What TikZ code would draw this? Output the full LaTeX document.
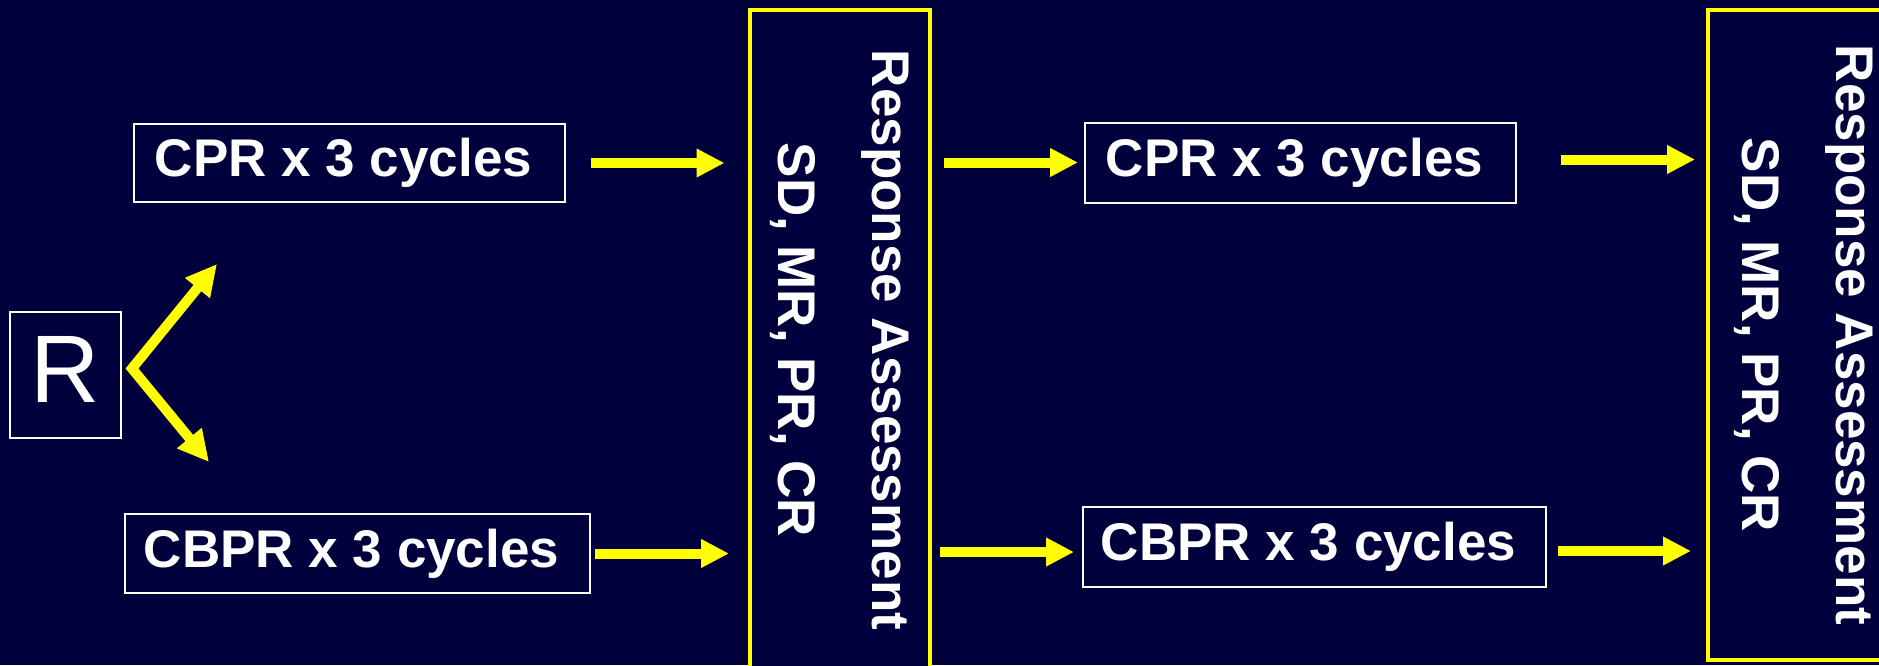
\documentclass[tikz,border=0pt]{standalone}
\usepackage{fontspec}
\setmainfont{Liberation Sans}
\usetikzlibrary{arrows.meta,calc}
\definecolor{navy}{RGB}{0,0,60}
\definecolor{ylw}{RGB}{255,255,0}
% labels in the treatment boxes sit slightly left of centre
\newcommand{\boxlabelpad}{\kern12pt}
\begin{document}
\begin{tikzpicture}[x=1pt,y=-1pt,
  wbox/.style={draw=white, line width=2pt, fill=navy, text=white, inner sep=0pt,
    font=\fontsize{53}{60}\selectfont\bfseries},
  ybox/.style={draw=ylw, line width=4pt, fill=navy, inner sep=0pt},
  vtext/.style={text=white, rotate=-90, align=center, inner sep=0pt,
    font=\fontsize{53}{94}\selectfont\bfseries},
  flow/.style={draw=ylw, line width=10pt, -{Triangle[length=28pt,width=27pt]}},
  forkarrow/.style={draw=ylw, line width=10pt, line join=miter,
    {Triangle[length=31pt,width=30pt]}-{Triangle[length=31pt,width=30pt]}}
]
% background
\fill[navy] (0,0) rectangle (1879,665);
\clip (0,0) rectangle (1879,665);

% randomisation
\node[wbox, minimum width=111pt, minimum height=126pt, text depth=10pt,
  font=\fontsize{96}{100}\selectfont] (R) at (65.5,374.5) {R};

% treatment boxes
\node[wbox, minimum width=431pt, minimum height=78pt] (cprL) at (349.5,163) {CPR x 3 cycles\boxlabelpad};
\node[wbox, minimum width=465pt, minimum height=79pt] (cbprL) at (357.5,553.5) {CBPR x 3 cycles\boxlabelpad};
\node[wbox, minimum width=431pt, minimum height=80pt] (cprR) at (1300.5,162.5) {CPR x 3 cycles\boxlabelpad};
\node[wbox, minimum width=463pt, minimum height=80pt] (cbprR) at (1314.5,547) {CBPR x 3 cycles\boxlabelpad};

% response assessment columns
\node[ybox, minimum width=180pt, minimum height=660pt] (ra1) at (839.5,340) {};
\node[vtext] (ra1t) at (ra1.center) {Response Assessment\\SD, MR, PR, CR};
\node[ybox, minimum width=191pt, minimum height=650pt] (ra2) at (1803.5,335) {};
\node[vtext] (ra2t) at (ra2.center) {Response Assessment\\SD, MR, PR, CR};

% fork from R
\coordinate (fork) at ($(R.east)+(10,-6)$);
\coordinate (upTip) at (217,264);
\coordinate (downTip) at (209,462);
\draw[forkarrow] (upTip) -- (fork) -- (downTip);

% flow arrows
\draw[flow, shorten <=25pt, shorten >=23pt] (cprL.east) -- (cprL.east -| ra1.west);
\draw[flow, shorten <=4pt, shorten >=18.5pt] (cbprL.east) -- (cbprL.east -| ra1.west);
\draw[flow, shorten <=12.5pt, shorten >=6pt] (cprR.west -| ra1.east) -- (cprR.west);
\draw[flow, shorten <=8.5pt, shorten >=8pt]
  ($(ra1.east |- cbprR.west)+(0,5)$) -- ($(cbprR.west)+(0,5)$);
\draw[flow, shorten <=44pt, shorten >=11pt]
  ($(cprR.east)+(0,-3)$) -- ($(ra2.west |- cprR.east)+(0,-3)$);
\draw[flow, shorten <=11pt, shorten >=15pt]
  ($(cbprR.east)+(0,4)$) -- ($(ra2.west |- cbprR.east)+(0,4)$);
\end{tikzpicture}
\end{document}
